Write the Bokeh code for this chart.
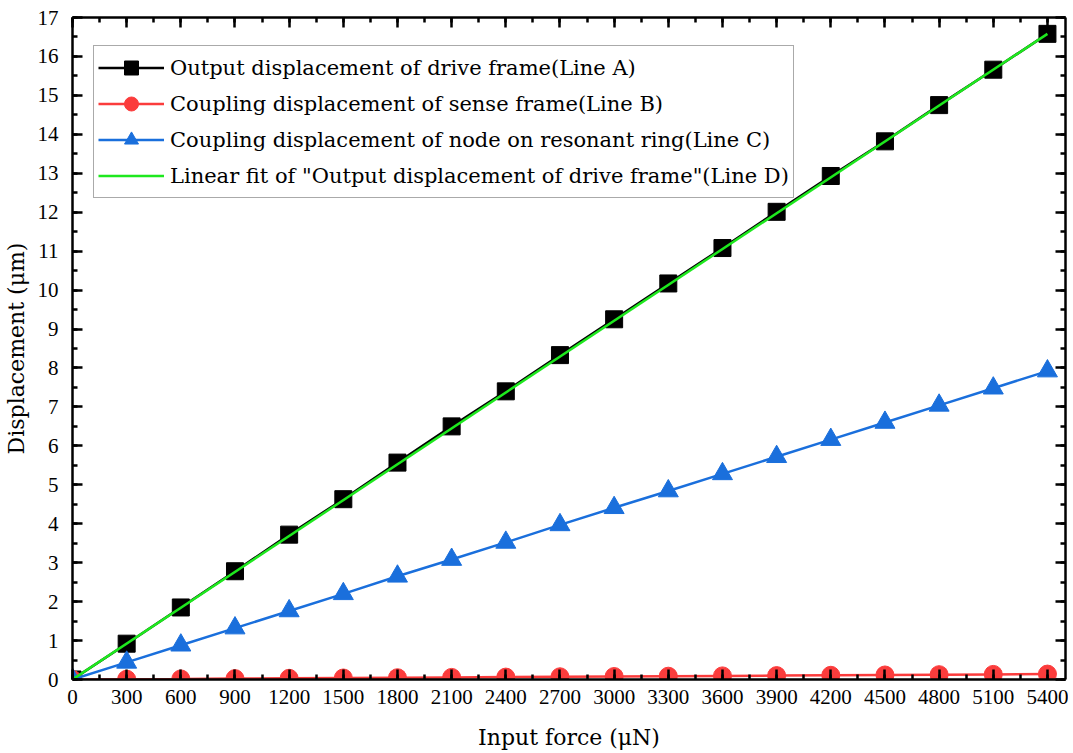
from bokeh.plotting import figure
from bokeh.models import LinearAxis, SingleIntervalTicker, Range1d, Legend, CustomJSTickFormatter
from bokeh.embed import file_html
from bokeh.resources import INLINE

force = [0, 300, 600, 900, 1200, 1500, 1800, 2100, 2400, 2700, 3000, 3300,
         3600, 3900, 4200, 4500, 4800, 5100, 5400]
line_a = [0, 0.92, 1.85, 2.78, 3.72, 4.63, 5.57, 6.50, 7.40, 8.33, 9.25, 10.17,
          11.08, 12.01, 12.93, 13.82, 14.75, 15.66, 16.58]
line_b = [0, 0.008, 0.015, 0.023, 0.031, 0.039, 0.046, 0.054, 0.062, 0.070, 0.077,
          0.085, 0.093, 0.100, 0.108, 0.116, 0.124, 0.131, 0.139]
line_c = [0, 0.44, 0.88, 1.32, 1.76, 2.20, 2.65, 3.08, 3.52, 3.97, 4.41, 4.84,
          5.28, 5.72, 6.16, 6.60, 7.04, 7.48, 7.92]
fit_x = [0, 5400]
fit_y = [0, 16.58]

labels = ["Output displacement of drive frame(Line A)",
          "Coupling displacement of sense frame(Line B)",
          "Coupling displacement of node on resonant ring(Line C)",
          "Linear fit of \"Output displacement of drive frame\"(Line D)"]

SERIF = "DejaVu Serif"
TICKF = "Liberation Serif"

p = figure(width=1068, height=752, output_backend="svg", toolbar_location=None,
           x_range=Range1d(0, 5500), y_range=Range1d(0, 17),
           min_border_left=72, min_border_right=3, min_border_top=17, min_border_bottom=66,
           x_axis_type=None, y_axis_type=None)
p.grid.visible = False
p.outline_line_color = None

def style_axis(ax, show_labels):
    ax.axis_line_width = 2.5
    ax.axis_line_color = "black"
    ax.major_tick_line_width = 2.5
    ax.minor_tick_line_width = 2.5
    ax.major_tick_in = 10
    ax.major_tick_out = 0
    ax.minor_tick_in = 5
    ax.minor_tick_out = 0
    ax.major_label_text_font = TICKF
    ax.major_label_text_color = "black"
    ax.major_label_text_font_size = "21px"
    if show_labels:
        ax.major_label_standoff = 10
    else:
        ax.formatter = CustomJSTickFormatter(code="return ''")
        ax.major_label_standoff = 0
    ax.axis_label_text_font = SERIF
    ax.axis_label_text_font_size = "22px"
    ax.axis_label_text_font_style = "normal"
    ax.axis_label_text_color = "black"

xt = lambda: SingleIntervalTicker(interval=300, num_minor_ticks=2)
yt = lambda: SingleIntervalTicker(interval=1, num_minor_ticks=2)

xb = LinearAxis(ticker=xt(), axis_label="Input force (μN)")
style_axis(xb, True)
xb.axis_label_standoff = 18
yl = LinearAxis(ticker=yt(), axis_label="Displacement (μm)")
style_axis(yl, True)
yl.major_label_standoff = 14
yl.axis_label_standoff = 6
xa = LinearAxis(ticker=xt())
style_axis(xa, False)
yr = LinearAxis(ticker=yt())
style_axis(yr, False)
p.add_layout(xb, "below")
p.add_layout(yl, "left")
p.add_layout(xa, "above")
p.add_layout(yr, "right")

black = "#000000"
red = "#fb3c3c"
blue = "#1a6fdc"
green = "#1ee81e"

ra_l = p.line(force, line_a, line_color=black, line_width=2.5)
ra_m = p.scatter(force, line_a, marker="square", size=17, fill_color=black, line_color=black)
rb_l = p.line(force, line_b, line_color=red, line_width=2.5)
rb_m = p.scatter(force, line_b, marker="circle", size=18, fill_color=red, line_color=red)
rc_l = p.line(force, line_c, line_color=blue, line_width=2.5)
rc_m = p.scatter(force, line_c, marker="triangle", size=20, fill_color=blue, line_color=blue)
rd_l = p.line(fit_x, fit_y, line_color=green, line_width=2.5)

legend = Legend(items=[(labels[0], [ra_l, ra_m]), (labels[1], [rb_l, rb_m]),
                       (labels[2], [rc_l, rc_m]), (labels[3], [rd_l])],
                location=(21, 481))
legend.label_text_font = SERIF
legend.label_text_font_size = "21px"
legend.label_text_color = "black"
legend.glyph_width = 66
legend.glyph_height = 35
legend.label_height = 35
legend.label_standoff = 6
legend.spacing = 1
legend.padding = 4
legend.margin = 0
legend.border_line_color = "#555555"
legend.border_line_width = 1.5
legend.background_fill_color = "white"
legend.background_fill_alpha = 1
p.add_layout(legend, "center")

open("out.html", "w").write(file_html(p, INLINE))
